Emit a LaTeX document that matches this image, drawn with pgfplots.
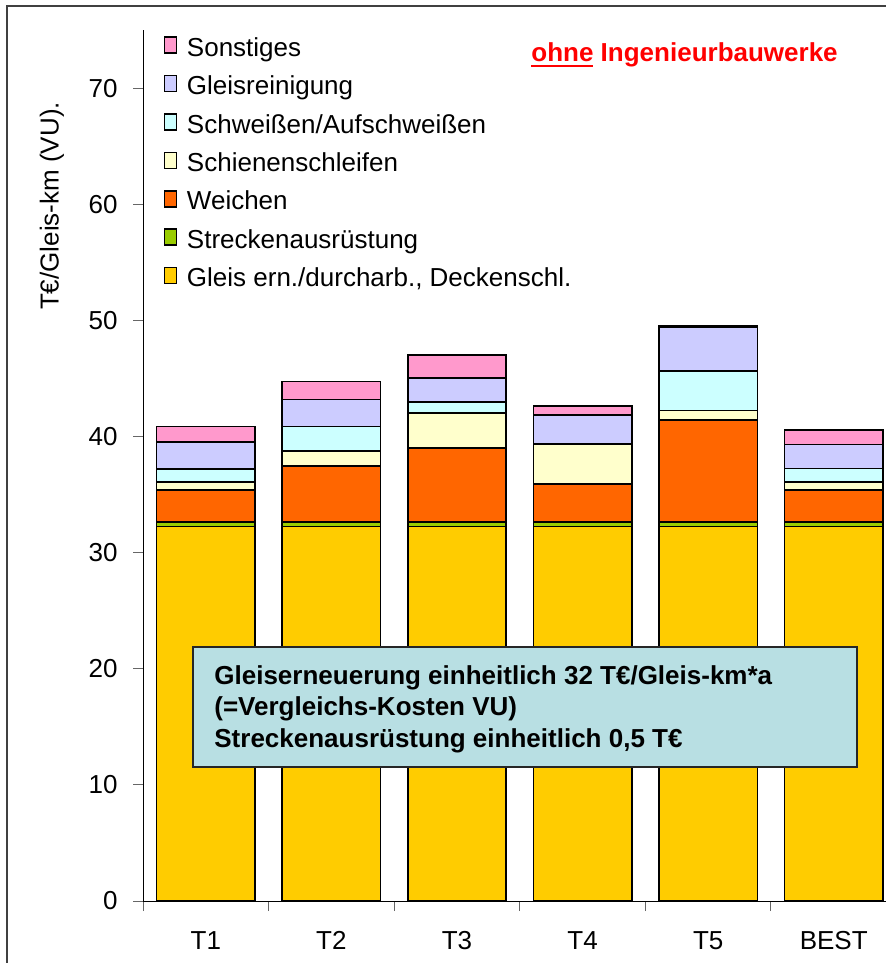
\documentclass[border=0pt]{standalone}
\usepackage{fontspec}
\setmainfont{Liberation Sans}
\usepackage{pgfplots}
\pgfplotsset{compat=1.18}
\definecolor{cGleis}{HTML}{FFCC00}
\definecolor{cStrecke}{HTML}{99CC00}
\definecolor{cWeichen}{HTML}{FF6600}
\definecolor{cSchleif}{HTML}{FFFFCC}
\definecolor{cSchweiss}{HTML}{CCFFFF}
\definecolor{cReinig}{HTML}{CCCCFF}
\definecolor{cSonst}{HTML}{FF99CC}
\definecolor{cBox}{HTML}{B8DFE3}
\pgfplotsset{ybar legend/.style={legend image code/.code={\draw[##1,draw=black,line width=0.6pt] (0pt,-0.25pt) rectangle (8pt,7.5pt);}}}
\newcommand{\fs}{\fontsize{13}{15.6}\selectfont}
\begin{document}
\begin{tikzpicture}[x=0.5pt,y=0.5pt]
\useasboundingbox (0,0) rectangle (886,963);
\draw[color=black!75, line width=1pt] (7,0) -- (7,957) -- (886,957);
\begin{axis}[
  at={(71.5pt,31pt)}, anchor=south west,
  scale only axis, width=371.5pt, height=435.5pt,
  xmin=-0.5, xmax=5.416, ymin=0, ymax=75,
  ybar stacked, bar width=49.2pt,
  axis x line*=bottom, axis y line*=left,
  axis line style={-, black, line width=0.5pt},
  ytick={0,10,...,70},
  xtick={0,...,5}, xticklabels={T1,T2,T3,T4,T5,BEST},
  minor xtick={-0.5,0.5,...,4.5},
  tick align=outside, major tick length=5pt, minor tick length=5pt,
  major x tick style={draw=none},
  ytick style={black!60, line width=0.5pt},
  minor x tick style={black!60, line width=0.5pt},
  /pgf/number format/assume math mode=true,
  tick label style={font=\fs},
  yticklabel style={inner sep=0pt, xshift=-7.5pt},
  xticklabel style={anchor=base, inner sep=0pt, yshift=-19pt},
  legend style={at={(0.0273,0.9931)}, anchor=north west, draw=none, fill=none, font=\fs, inner sep=0pt, row sep=6.8pt, column sep=4.85pt, nodes={inner sep=0pt, text height=9.5pt, text depth=2.5pt}},
  legend cell align=left,
  reverse legend,
]
\addplot[fill=cGleis, draw=black, line width=0.8pt] coordinates {(0,32.25) (1,32.25) (2,32.25) (3,32.25) (4,32.25) (5,32.25)};
\addlegendentry{Gleis ern./durcharb., Deckenschl.}
\addplot[fill=cStrecke, draw=black, line width=0.8pt] coordinates {(0,0.4) (1,0.4) (2,0.4) (3,0.4) (4,0.4) (5,0.4)};
\addlegendentry{Streckenausrüstung}
\addplot[fill=cWeichen, draw=black, line width=0.8pt] coordinates {(0,2.72) (1,4.8) (2,6.35) (3,3.27) (4,8.79) (5,2.72)};
\addlegendentry{Weichen}
\addplot[fill=cSchleif, draw=black, line width=0.8pt] coordinates {(0,0.73) (1,1.32) (2,3.04) (3,3.41) (4,0.8) (5,0.73)};
\addlegendentry{Schienenschleifen}
\addplot[fill=cSchweiss, draw=black, line width=0.8pt] coordinates {(0,1.12) (1,2.09) (2,0.95) (3,0) (4,3.41) (5,1.13)};
\addlegendentry{Schweißen/Aufschweißen}
\addplot[fill=cReinig, draw=black, line width=0.8pt] coordinates {(0,2.3) (1,2.33) (2,2.06) (3,2.51) (4,3.76) (5,2.08)};
\addlegendentry{Gleisreinigung}
\addplot[fill=cSonst, draw=black, line width=0.8pt] coordinates {(0,1.34) (1,1.54) (2,1.98) (3,0.77) (4,0.1) (5,1.23)};
\addlegendentry{Sonstiges}
\end{axis}
\draw[fill=cBox, draw=black!85, line width=1pt] (192.7,316) rectangle (857,196);
\node[anchor=base west, font=\bfseries\fs, inner sep=0pt] at (214,278) {Gleiserneuerung einheitlich 32 T€/Gleis-km*a};
\node[anchor=base west, font=\bfseries\fs, inner sep=0pt] at (214,247) {(=Vergleichs-Kosten VU)};
\node[anchor=base west, font=\bfseries\fs, inner sep=0pt] at (214,215) {Streckenausrüstung einheitlich 0,5 T€};
\node[anchor=base west, font=\bfseries\fs, inner sep=0pt, text=red] at (531,901.3) {ohne Ingenieurbauwerke};
\draw[red, line width=1pt] (531,897) -- (593,897);
\node[rotate=90, font=\fs, inner sep=0pt] at (52,757) {T€/Gleis-km (VU).};
\end{tikzpicture}
\end{document}
